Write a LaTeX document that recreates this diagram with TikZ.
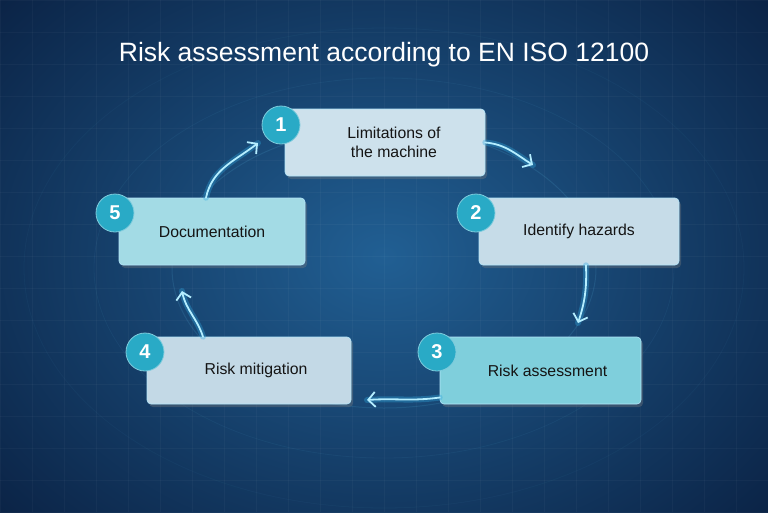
\documentclass[tikz,border=0pt]{standalone}
\usepackage{fontspec}
\setmainfont{Liberation Sans}
\usetikzlibrary{arrows.meta,shadows,positioning}
\definecolor{bgout}{HTML}{0A2143}
\definecolor{bgin}{HTML}{215F93}
\definecolor{cA}{HTML}{CDE1EC}
\definecolor{cB}{HTML}{C6DCE8}
\definecolor{cC}{HTML}{7FCFDC}
\definecolor{cD}{HTML}{C3D9E6}
\definecolor{cE}{HTML}{A3DBE5}
\definecolor{badgec}{HTML}{29AAC6}
\definecolor{glow}{HTML}{2FA8E0}
\definecolor{core}{HTML}{B5EEFF}
\tikzset{
  stepbox/.style={draw=white!70!cyan, line width=0.6pt, rounded corners=4pt,
    minimum height=67pt, align=center, font=\fontsize{15.8}{19.5}\selectfont,
    text=black!92, drop shadow={opacity=0.35, shadow xshift=2pt, shadow yshift=-3pt}},
  badge/.style={circle, fill=badgec, draw=badgec!60!white, line width=0.8pt,
    minimum size=38pt, inner sep=0pt, text=white,
    font=\fontsize{20}{20}\selectfont\bfseries},
  glowline/.style={draw=glow, line width=6pt, opacity=0.35, line cap=round},
  coreline/.style={draw=core, line width=1.8pt, line cap=round,
    -{Straight Barb[length=7pt,width=15pt,line width=1.8pt]}},
}
\begin{document}
\begin{tikzpicture}[x=1pt,y=-1pt]
\useasboundingbox (0,0) rectangle (768,512);
% background
\shade[inner color=bgin, outer color=bgout] (-150,-150) rectangle (918,662);
\begin{scope}
\clip (0,0) rectangle (768,512);
\foreach \i in {0,32,...,768} \draw[white, opacity=0.03, line width=0.4pt] (\i,0) -- (\i,512);
\foreach \j in {0,32,...,512} \draw[white, opacity=0.03, line width=0.4pt] (0,\j) -- (768,\j);
\draw[cyan!60, opacity=0.12, line width=1pt] (384,268) ellipse [x radius=212, y radius=140];
\draw[cyan!60, opacity=0.06, line width=0.8pt] (384,268) ellipse [x radius=290, y radius=190];
\draw[cyan!60, opacity=0.04, line width=0.8pt] (384,268) ellipse [x radius=360, y radius=240];
\end{scope}
% title
\node[text=white, font=\fontsize{26.5}{30}\selectfont] (title) at (384,55) {Risk assessment according to EN ISO 12100};
% boxes
\node[stepbox, fill=cA, minimum width=200pt] (n1) at (385,142.5) {\hspace*{18pt}Limitations of\\\hspace*{18pt}the machine};
\node[stepbox, fill=cB, minimum width=200pt] (n2) at (579,231.5) {Identify hazards};
\node[stepbox, fill=cC, minimum width=201pt] (n3) at (540.5,370.5) {\hspace*{14pt}Risk assessment};
\node[stepbox, fill=cD, minimum width=204pt] (n4) at (249,370.5) {\hspace*{14pt}Risk mitigation};
\node[stepbox, fill=cE, minimum width=186pt] (n5) at (212,231.5) {Documentation};
% badges
\node[badge] (b1) at (281,125) {1};
\node[badge] (b2) at (476,213) {2};
\node[badge] (b3) at (437,352) {3};
\node[badge] (b4) at (145,352) {4};
\node[badge] (b5) at (115,213) {5};
% arrow end points
\coordinate (s51) at ([xshift=-6pt]n5.north);
\coordinate (e51) at (258,143);
\coordinate (s12) at (n1.east);
\coordinate (e12) at (533,165);
\coordinate (s23) at ([xshift=7pt]n2.south);
\coordinate (e23) at (578,323);
\coordinate (s34) at ([yshift=-27pt]n3.west);
\coordinate (e34) at (367,400);
\coordinate (s45) at ([xshift=-46pt]n4.north);
\coordinate (e45) at (182,291);
% arrows
\foreach \s/\e/\o/\n in {s51/e51/78/218, s12/e12/-5/148, s23/e23/-88/72, s34/e34/188/4, s45/e45/108/-78}{
  \draw[glowline] (\s) to[out=\o,in=\n] (\e);
  \draw[coreline] (\s) to[out=\o,in=\n] (\e);
}
\end{tikzpicture}
\end{document}
